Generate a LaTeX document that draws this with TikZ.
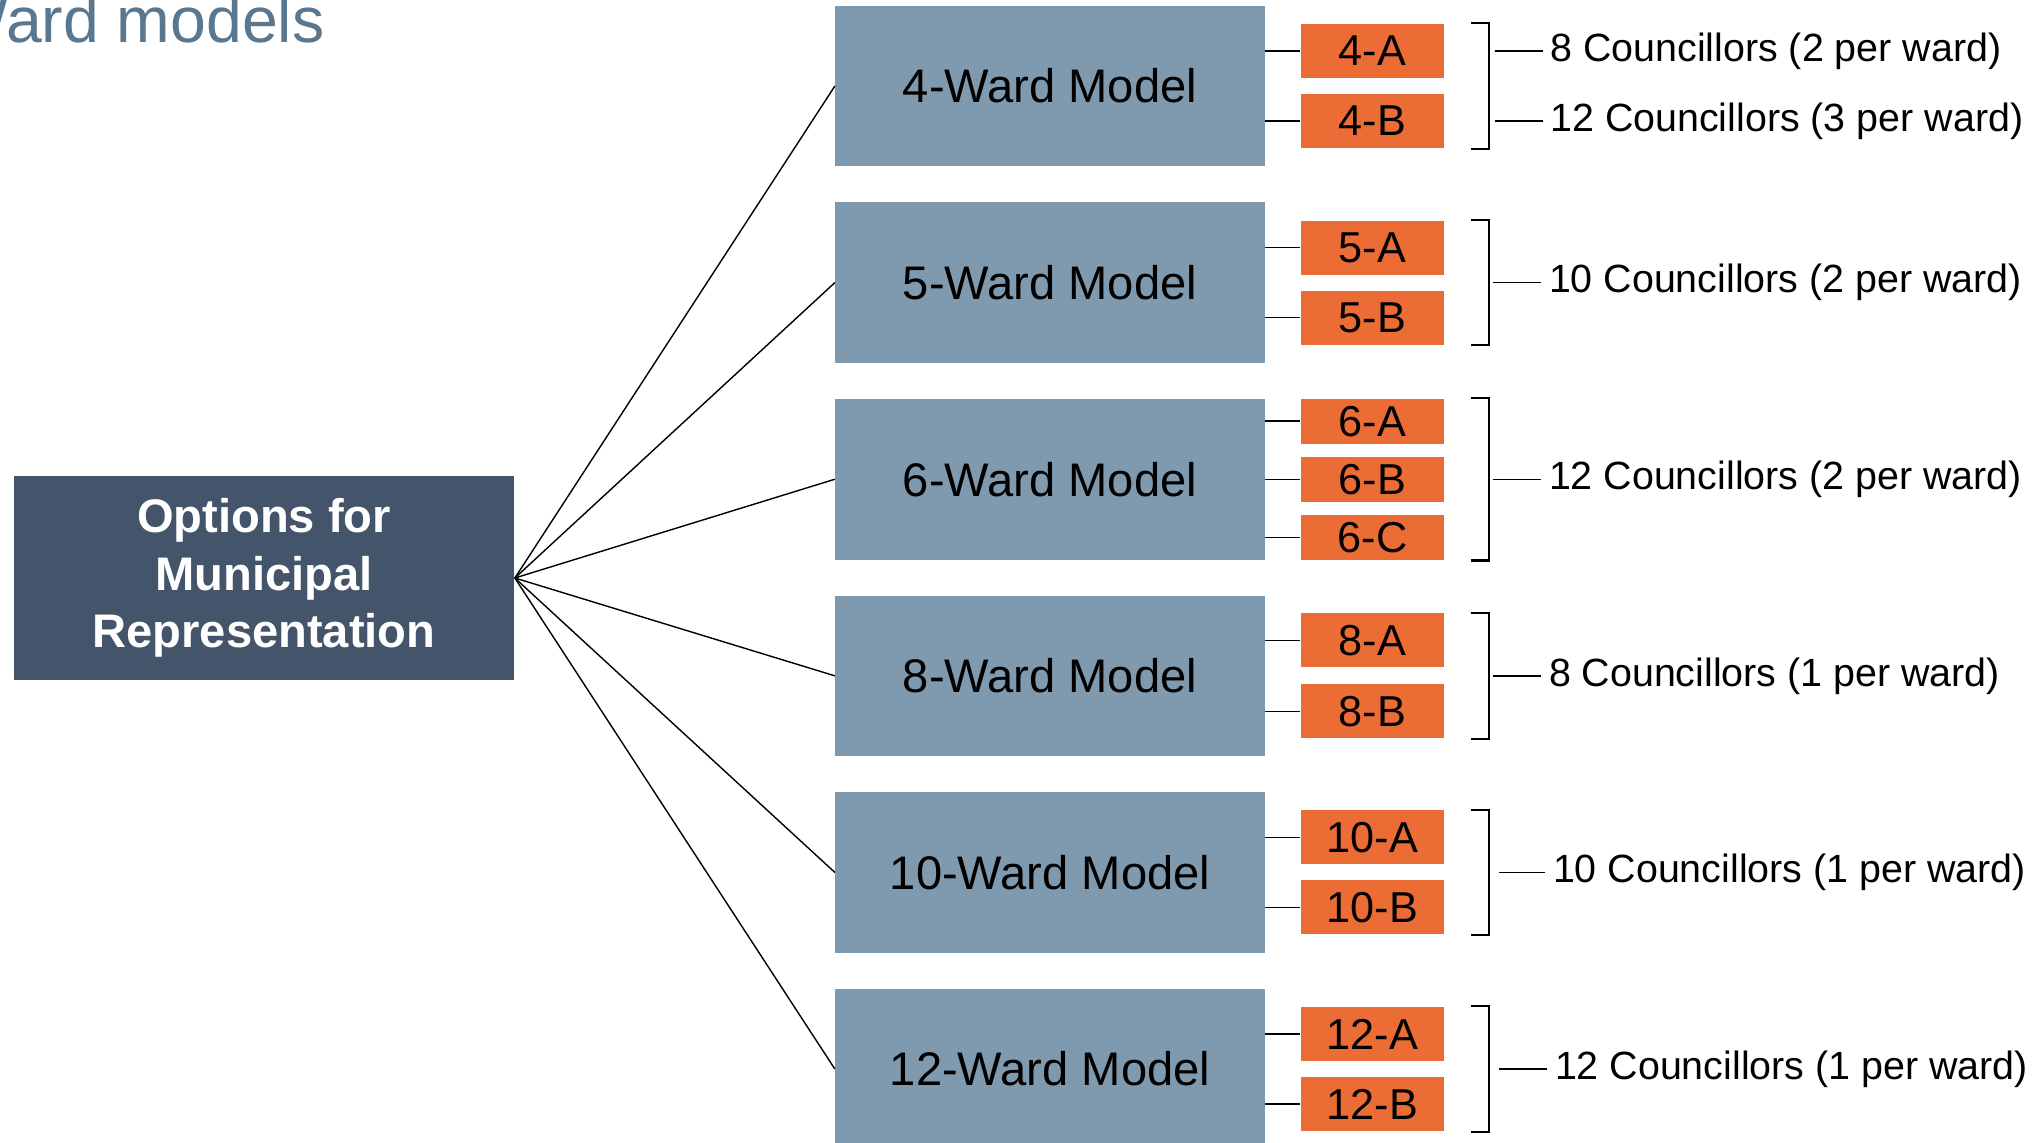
\documentclass[tikz,border=0pt]{standalone}
\usepackage{fontspec}
\setmainfont{Liberation Sans}
\usepackage{xcolor}
\usepackage{tikz}
\usetikzlibrary{positioning}
\definecolor{slate}{HTML}{44546A}
\definecolor{steel}{HTML}{7F99AE}
\definecolor{wardorange}{HTML}{EB6C34}
\definecolor{titleblue}{HTML}{5A7790}
\tikzstyle{heading} = [anchor=base west, inner sep=0pt, text=titleblue, font=\fontsize{18.3}{22}\selectfont]
\tikzstyle{mainbox} = [fill=slate, text=white, minimum width=5cm, minimum height=2.03cm, align=center, font=\fontsize{13.4}{16.4}\selectfont\bfseries]
\tikzstyle{model} = [fill=steel, minimum width=4.3cm, minimum height=1.605cm, inner sep=0pt, outer sep=0pt, font=\fontsize{13.4}{16}\selectfont]
\tikzstyle{option} = [fill=wardorange, minimum width=1.43cm, minimum height=0.54cm, inner sep=0pt, anchor=west, font=\fontsize{12.3}{14}\selectfont]
\tikzstyle{smalloption} = [option, minimum height=0.45cm]
\tikzstyle{seats} = [anchor=west, inner xsep=0.07cm, inner ysep=0pt, font=\fontsize{11.2}{13}\selectfont]
\tikzstyle{thinline} = [line width=0.4pt]
\tikzstyle{bracket} = [line width=0.6pt]

\begin{document}
\begin{tikzpicture}[x=0.01cm, y=-0.01cm]
    \useasboundingbox (0,0) rectangle (2042,1143);
    \clip (0,0) rectangle (2042,1143);

    \node[heading] (title) at (-53,43) {Ward models};
    \node[mainbox] (opts) at (264,578) {Options for\\Municipal\\Representation};

    % ward models
    \node[model] (m4) at (1050,86) {4-Ward Model};
    \node[model] (m5)[below=0.36cm of m4] {5-Ward Model};
    \node[model] (m6)[below=0.36cm of m5] {6-Ward Model};
    \node[model] (m8)[below=0.36cm of m6] {8-Ward Model};
    \node[model] (m10)[below=0.36cm of m8] {10-Ward Model};
    \node[model] (m12)[below=0.36cm of m10] {12-Ward Model};

    \draw [thinline] (opts.east) -- (m4.west);
    \draw [thinline] (opts.east) -- (m5.west);
    \draw [thinline] (opts.east) -- (m6.west);
    \draw [thinline] (opts.east) -- (m8.west);
    \draw [thinline] (opts.east) -- (m10.west);
    \draw [thinline] (opts.east) -- (m12.west);

    % options
    \node[option] (o4a) at ([xshift=0.35cm,yshift=0.35cm]m4.east) {4-A};
    \node[option] (o4b) at ([xshift=0.35cm,yshift=-0.35cm]m4.east) {4-B};
    \node[option] (o5a) at ([xshift=0.35cm,yshift=0.35cm]m5.east) {5-A};
    \node[option] (o5b) at ([xshift=0.35cm,yshift=-0.35cm]m5.east) {5-B};
    \node[smalloption] (o6a) at ([xshift=0.35cm,yshift=0.58cm]m6.east) {6-A};
    \node[smalloption] (o6b) at ([xshift=0.35cm]m6.east) {6-B};
    \node[smalloption] (o6c) at ([xshift=0.35cm,yshift=-0.58cm]m6.east) {6-C};
    \node[option] (o8a) at ([xshift=0.35cm,yshift=0.355cm]m8.east) {8-A};
    \node[option] (o8b) at ([xshift=0.35cm,yshift=-0.355cm]m8.east) {8-B};
    \node[option] (o10a) at ([xshift=0.35cm,yshift=0.35cm]m10.east) {10-A};
    \node[option] (o10b) at ([xshift=0.35cm,yshift=-0.35cm]m10.east) {10-B};
    \node[option] (o12a) at ([xshift=0.35cm,yshift=0.35cm]m12.east) {12-A};
    \node[option] (o12b) at ([xshift=0.35cm,yshift=-0.35cm]m12.east) {12-B};

    \draw [thinline] (m4.east |- o4a) -- (o4a);
    \draw [thinline] (m4.east |- o4b) -- (o4b);
    \draw [thinline] (m5.east |- o5a) -- (o5a);
    \draw [thinline] (m5.east |- o5b) -- (o5b);
    \draw [thinline] (m6.east |- o6a) -- (o6a);
    \draw [thinline] (m6.east |- o6b) -- (o6b);
    \draw [thinline] (m6.east |- o6c) -- (o6c);
    \draw [thinline] (m8.east |- o8a) -- (o8a);
    \draw [thinline] (m8.east |- o8b) -- (o8b);
    \draw [thinline] (m10.east |- o10a) -- (o10a);
    \draw [thinline] (m10.east |- o10b) -- (o10b);
    \draw [thinline] (m12.east |- o12a) -- (o12a);
    \draw [thinline] (m12.east |- o12b) -- (o12b);

    % brackets
    \draw [bracket] ([xshift=0.26cm]o4a.north east) -- ++(0.18cm,0) |- ([xshift=0.26cm]o4b.south east);
    \draw [bracket] ([xshift=0.26cm]o5a.north east) -- ++(0.18cm,0) |- ([xshift=0.26cm]o5b.south east);
    \draw [bracket] ([xshift=0.26cm]o6a.north east) -- ++(0.18cm,0) |- ([xshift=0.26cm]o6c.south east);
    \draw [bracket] ([xshift=0.26cm]o8a.north east) -- ++(0.18cm,0) |- ([xshift=0.26cm]o8b.south east);
    \draw [bracket] ([xshift=0.26cm]o10a.north east) -- ++(0.18cm,0) |- ([xshift=0.26cm]o10b.south east);
    \draw [bracket] ([xshift=0.26cm]o12a.north east) -- ++(0.18cm,0) |- ([xshift=0.26cm]o12b.south east);

    % councillors
    \coordinate (b4a) at ([xshift=0.50cm]o4a.east);
    \coordinate (b4b) at ([xshift=0.50cm]o4b.east);
    \coordinate (b5) at ([xshift=2.28cm]m5.east);
    \coordinate (b6) at ([xshift=2.28cm]m6.east);
    \coordinate (b8) at ([xshift=2.28cm]m8.east);
    \coordinate (b10) at ([xshift=2.34cm]m10.east);
    \coordinate (b12) at ([xshift=2.34cm]m12.east);
    \node[seats] (s4a) at ([xshift=0.98cm]o4a.east) {8 Councillors (2 per ward)};
    \node[seats] (s4b) at ([xshift=0.98cm]o4b.east) {12 Councillors (3 per ward)};
    \node[seats] (s5) at ([xshift=2.76cm]m5.east) {10 Councillors (2 per ward)};
    \node[seats] (s6) at ([xshift=2.76cm]m6.east) {12 Councillors (2 per ward)};
    \node[seats] (s8) at ([xshift=2.76cm]m8.east) {8 Councillors (1 per ward)};
    \node[seats] (s10) at ([xshift=2.80cm]m10.east) {10 Councillors (1 per ward)};
    \node[seats] (s12) at ([xshift=2.82cm]m12.east) {12 Councillors (1 per ward)};

    \draw [thinline] (b4a) -- (s4a);
    \draw [thinline] (b4b) -- (s4b);
    \draw [thinline] (b5) -- (s5);
    \draw [thinline] (b6) -- (s6);
    \draw [thinline] (b8) -- (s8);
    \draw [thinline] (b10) -- (s10);
    \draw [thinline] (b12) -- (s12);
\end{tikzpicture}
\end{document}
